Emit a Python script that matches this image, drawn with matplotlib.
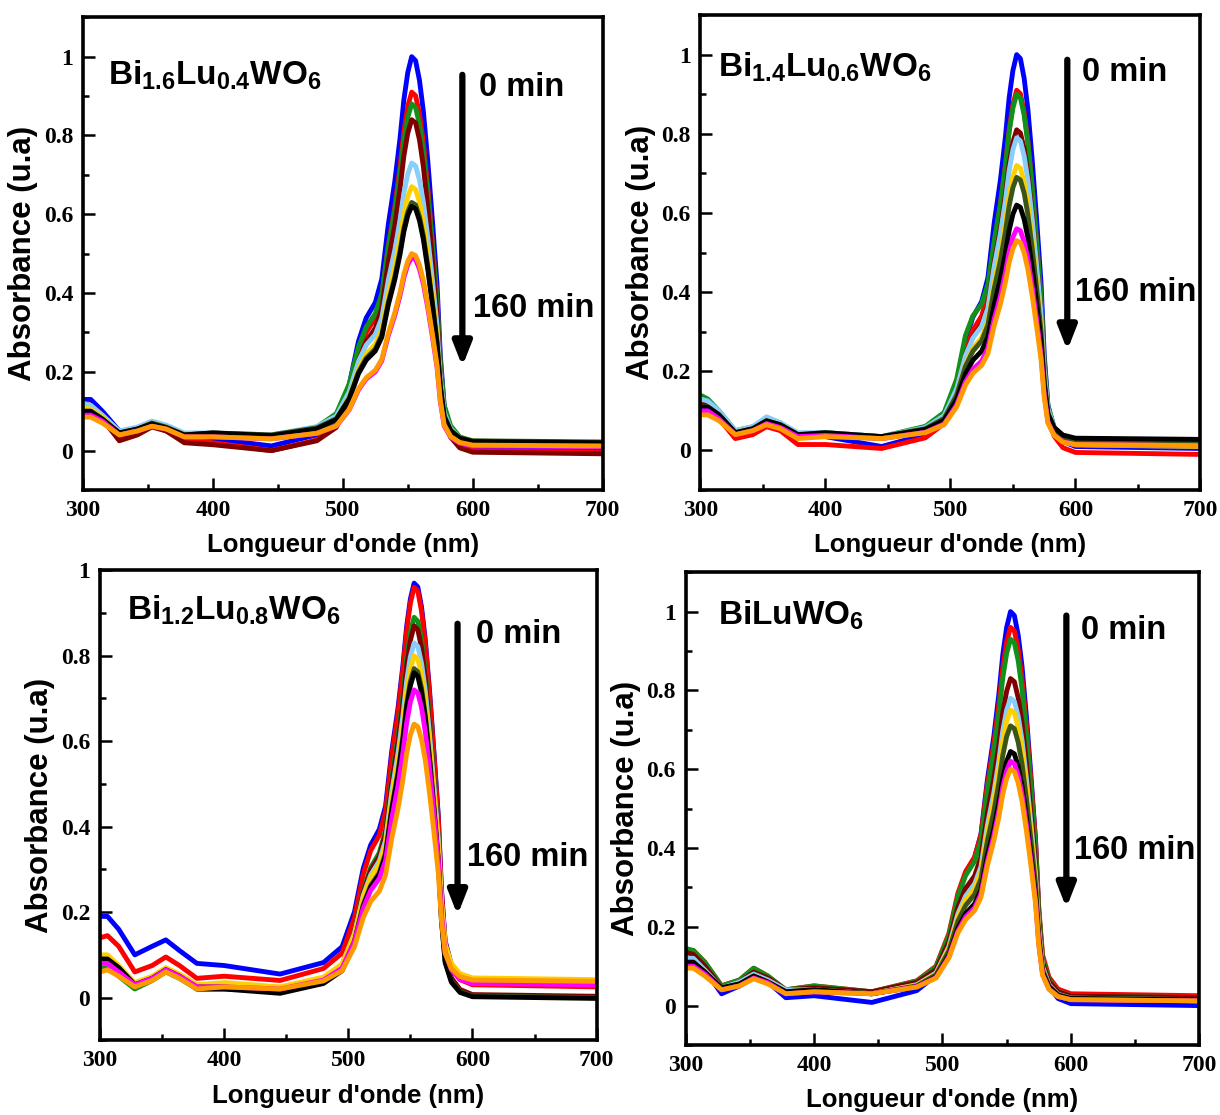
import matplotlib
matplotlib.use("Agg")
import matplotlib.pyplot as plt
from matplotlib.ticker import MultipleLocator, FuncFormatter

plt.rcParams['font.family'] = 'Liberation Serif'
plt.rcParams['font.weight'] = 'bold'
plt.rcParams['mathtext.fontset'] = 'custom'
plt.rcParams['mathtext.rm'] = 'Liberation Sans:bold'
plt.rcParams['mathtext.bf'] = 'Liberation Sans:bold'
plt.rcParams['mathtext.it'] = 'Liberation Sans:bold'

wavelength = [300, 306, 315, 328, 342, 353, 364, 378, 400, 445,
              480, 495, 505, 512, 518, 525, 530, 535, 540, 544, 547, 550, 553,
              556, 559, 562, 565.5, 569, 572.5, 575, 578, 583, 590, 600, 700]

# one colour per irradiation time, 0 min -> 160 min
colors = ['#0000ff', '#ff0000', '#11901a', '#800000', '#87cefa',
          '#ffd000', '#3b5516', '#000000', '#ff00ff', '#ff9900']

# Bi1.6Lu0.4WO6
abs_bi16 = [
    [0.13, 0.13, 0.10, 0.05, 0.055, 0.07, 0.06, 0.03, 0.03, 0.012,
     0.040, 0.079, 0.168, 0.277, 0.337, 0.376, 0.436, 0.574, 0.683, 0.792, 0.891, 0.960, 1.000,
     0.990, 0.940, 0.861, 0.731, 0.582, 0.423, 0.244, 0.114, 0.055, 0.023, 0.010, 0.005],
    [0.12, 0.115, 0.09, 0.03, 0.045, 0.065, 0.05, 0.03, 0.02, 0.0,
     0.027, 0.064, 0.146, 0.246, 0.300, 0.337, 0.391, 0.519, 0.619, 0.719, 0.810, 0.874, 0.910,
     0.901, 0.855, 0.782, 0.663, 0.526, 0.379, 0.215, 0.096, 0.041, 0.011, 0.0, -0.005],
    [0.11, 0.105, 0.085, 0.045, 0.055, 0.07, 0.06, 0.04, 0.04, 0.035,
     0.060, 0.094, 0.170, 0.263, 0.314, 0.348, 0.398, 0.517, 0.610, 0.703, 0.787, 0.846, 0.880,
     0.871, 0.828, 0.760, 0.648, 0.519, 0.381, 0.226, 0.115, 0.063, 0.035, 0.024, 0.02],
    [0.10, 0.10, 0.08, 0.025, 0.04, 0.06, 0.05, 0.02, 0.015, 0.0,
     0.025, 0.059, 0.134, 0.227, 0.277, 0.311, 0.361, 0.479, 0.571, 0.664, 0.748, 0.806, 0.840,
     0.832, 0.789, 0.721, 0.611, 0.484, 0.348, 0.196, 0.085, 0.034, 0.007, -0.004, -0.008],
    [0.12, 0.115, 0.09, 0.05, 0.06, 0.075, 0.065, 0.045, 0.045, 0.04,
     0.061, 0.088, 0.150, 0.226, 0.268, 0.295, 0.337, 0.433, 0.509, 0.585, 0.654, 0.702, 0.730,
     0.723, 0.687, 0.631, 0.538, 0.432, 0.318, 0.190, 0.098, 0.056, 0.033, 0.024, 0.02],
    [0.11, 0.105, 0.085, 0.045, 0.055, 0.07, 0.06, 0.04, 0.04, 0.035,
     0.054, 0.079, 0.137, 0.206, 0.245, 0.270, 0.308, 0.397, 0.467, 0.537, 0.600, 0.645, 0.670,
     0.663, 0.631, 0.578, 0.492, 0.394, 0.288, 0.170, 0.084, 0.045, 0.024, 0.015, 0.012],
    [0.10, 0.10, 0.08, 0.045, 0.055, 0.07, 0.06, 0.04, 0.045, 0.04,
     0.058, 0.081, 0.134, 0.199, 0.235, 0.258, 0.294, 0.376, 0.441, 0.506, 0.565, 0.606, 0.630,
     0.624, 0.594, 0.545, 0.466, 0.375, 0.277, 0.168, 0.089, 0.052, 0.033, 0.025, 0.022],
    [0.10, 0.10, 0.08, 0.045, 0.055, 0.068, 0.058, 0.04, 0.045, 0.038,
     0.055, 0.079, 0.131, 0.195, 0.230, 0.253, 0.288, 0.370, 0.434, 0.498, 0.556, 0.597, 0.620,
     0.614, 0.584, 0.536, 0.458, 0.368, 0.272, 0.164, 0.086, 0.050, 0.031, 0.023, 0.02],
    [0.09, 0.09, 0.075, 0.04, 0.05, 0.062, 0.055, 0.035, 0.035, 0.03,
     0.044, 0.062, 0.104, 0.154, 0.182, 0.200, 0.228, 0.292, 0.343, 0.393, 0.439, 0.472, 0.490,
     0.485, 0.461, 0.423, 0.360, 0.288, 0.212, 0.125, 0.063, 0.034, 0.019, 0.012, 0.01],
    [0.085, 0.085, 0.07, 0.04, 0.05, 0.062, 0.055, 0.035, 0.035, 0.03,
     0.044, 0.063, 0.105, 0.157, 0.185, 0.204, 0.232, 0.298, 0.350, 0.401, 0.448, 0.481, 0.500,
     0.495, 0.471, 0.432, 0.368, 0.295, 0.217, 0.129, 0.066, 0.036, 0.021, 0.014, 0.012],
]

# Bi1.4Lu0.6WO6
abs_bi14 = [
    [0.12, 0.12, 0.095, 0.045, 0.055, 0.075, 0.065, 0.035, 0.035, 0.01,
     0.040, 0.079, 0.168, 0.277, 0.337, 0.376, 0.436, 0.574, 0.683, 0.792, 0.891, 0.960, 1.000,
     0.990, 0.940, 0.861, 0.731, 0.582, 0.423, 0.244, 0.114, 0.055, 0.023, 0.010, 0.005],
    [0.10, 0.10, 0.08, 0.03, 0.04, 0.06, 0.05, 0.015, 0.015, 0.005,
     0.032, 0.068, 0.150, 0.249, 0.304, 0.340, 0.394, 0.521, 0.620, 0.720, 0.810, 0.874, 0.910,
     0.901, 0.855, 0.781, 0.662, 0.524, 0.376, 0.211, 0.091, 0.036, 0.007, -0.005, -0.01],
    [0.14, 0.13, 0.10, 0.05, 0.06, 0.08, 0.07, 0.04, 0.045, 0.035,
     0.061, 0.096, 0.180, 0.290, 0.340, 0.370, 0.420, 0.528, 0.623, 0.718, 0.805, 0.865, 0.900,
     0.891, 0.847, 0.776, 0.661, 0.528, 0.387, 0.227, 0.112, 0.059, 0.031, 0.019, 0.015],
    [0.12, 0.12, 0.095, 0.045, 0.055, 0.075, 0.065, 0.035, 0.04, 0.03,
     0.053, 0.085, 0.155, 0.241, 0.287, 0.319, 0.365, 0.475, 0.560, 0.646, 0.724, 0.779, 0.810,
     0.802, 0.762, 0.699, 0.595, 0.476, 0.349, 0.206, 0.102, 0.055, 0.029, 0.019, 0.015],
    [0.13, 0.125, 0.10, 0.05, 0.06, 0.085, 0.07, 0.045, 0.045, 0.035,
     0.058, 0.088, 0.156, 0.239, 0.284, 0.314, 0.360, 0.465, 0.548, 0.631, 0.707, 0.760, 0.790,
     0.782, 0.744, 0.682, 0.582, 0.467, 0.343, 0.205, 0.105, 0.059, 0.034, 0.024, 0.02],
    [0.11, 0.11, 0.09, 0.045, 0.055, 0.075, 0.065, 0.04, 0.04, 0.03,
     0.051, 0.078, 0.140, 0.216, 0.258, 0.285, 0.327, 0.423, 0.499, 0.575, 0.644, 0.692, 0.720,
     0.713, 0.677, 0.621, 0.528, 0.422, 0.308, 0.180, 0.088, 0.046, 0.023, 0.014, 0.01],
    [0.11, 0.11, 0.09, 0.045, 0.055, 0.075, 0.065, 0.04, 0.042, 0.035,
     0.055, 0.081, 0.140, 0.212, 0.251, 0.277, 0.317, 0.408, 0.480, 0.552, 0.618, 0.664, 0.690,
     0.683, 0.650, 0.596, 0.509, 0.409, 0.301, 0.181, 0.094, 0.054, 0.032, 0.023, 0.02],
    [0.11, 0.11, 0.09, 0.045, 0.055, 0.075, 0.065, 0.04, 0.045, 0.035,
     0.053, 0.076, 0.129, 0.193, 0.228, 0.251, 0.287, 0.368, 0.433, 0.497, 0.556, 0.597, 0.620,
     0.614, 0.584, 0.537, 0.460, 0.371, 0.277, 0.170, 0.093, 0.058, 0.039, 0.031, 0.028],
    [0.10, 0.10, 0.08, 0.04, 0.05, 0.068, 0.058, 0.035, 0.038, 0.03,
     0.046, 0.067, 0.115, 0.173, 0.205, 0.226, 0.258, 0.332, 0.390, 0.449, 0.502, 0.539, 0.560,
     0.555, 0.527, 0.483, 0.412, 0.330, 0.242, 0.144, 0.072, 0.039, 0.022, 0.015, 0.012],
    [0.09, 0.09, 0.075, 0.04, 0.05, 0.065, 0.055, 0.03, 0.035, 0.03,
     0.045, 0.065, 0.110, 0.165, 0.195, 0.215, 0.245, 0.315, 0.370, 0.425, 0.475, 0.510, 0.530,
     0.525, 0.499, 0.457, 0.390, 0.312, 0.230, 0.136, 0.069, 0.038, 0.021, 0.015, 0.012],
]

# Bi1.2Lu0.8WO6
abs_bi12 = [
    [0.19, 0.19, 0.16, 0.10, 0.12, 0.135, 0.11, 0.08, 0.075, 0.055,
     0.082, 0.119, 0.201, 0.302, 0.357, 0.394, 0.448, 0.577, 0.677, 0.778, 0.869, 0.933, 0.970,
     0.961, 0.914, 0.838, 0.716, 0.575, 0.425, 0.256, 0.133, 0.077, 0.047, 0.035, 0.03],
    [0.14, 0.145, 0.12, 0.06, 0.075, 0.095, 0.075, 0.045, 0.05, 0.04,
     0.068, 0.104, 0.187, 0.288, 0.344, 0.380, 0.436, 0.564, 0.666, 0.767, 0.859, 0.923, 0.960,
     0.951, 0.904, 0.829, 0.708, 0.567, 0.418, 0.249, 0.128, 0.072, 0.042, 0.030, 0.025],
    [0.07, 0.07, 0.05, 0.02, 0.04, 0.06, 0.045, 0.02, 0.02, 0.015,
     0.041, 0.076, 0.155, 0.251, 0.304, 0.339, 0.391, 0.514, 0.610, 0.706, 0.794, 0.855, 0.890,
     0.881, 0.837, 0.765, 0.650, 0.516, 0.374, 0.214, 0.098, 0.045, 0.016, 0.004, 0.0],
    [0.09, 0.09, 0.07, 0.03, 0.045, 0.065, 0.05, 0.025, 0.025, 0.015,
     0.041, 0.075, 0.152, 0.246, 0.297, 0.331, 0.383, 0.502, 0.596, 0.690, 0.776, 0.836, 0.870,
     0.861, 0.818, 0.749, 0.636, 0.506, 0.367, 0.211, 0.098, 0.046, 0.019, 0.007, 0.003],
    [0.08, 0.08, 0.06, 0.03, 0.045, 0.065, 0.05, 0.03, 0.03, 0.02,
     0.044, 0.077, 0.150, 0.239, 0.287, 0.320, 0.368, 0.482, 0.571, 0.660, 0.741, 0.798, 0.830,
     0.822, 0.782, 0.719, 0.615, 0.496, 0.369, 0.226, 0.122, 0.075, 0.049, 0.039, 0.035],
    [0.10, 0.10, 0.075, 0.035, 0.05, 0.07, 0.055, 0.03, 0.035, 0.025,
     0.048, 0.079, 0.149, 0.234, 0.281, 0.312, 0.358, 0.467, 0.552, 0.637, 0.715, 0.769, 0.800,
     0.792, 0.755, 0.694, 0.595, 0.482, 0.360, 0.224, 0.125, 0.080, 0.056, 0.046, 0.042],
    [0.09, 0.09, 0.07, 0.03, 0.045, 0.065, 0.05, 0.025, 0.025, 0.012,
     0.035, 0.065, 0.133, 0.217, 0.262, 0.292, 0.338, 0.444, 0.527, 0.611, 0.687, 0.740, 0.770,
     0.762, 0.724, 0.662, 0.562, 0.447, 0.323, 0.185, 0.085, 0.039, 0.014, 0.004, 0.0],
    [0.09, 0.09, 0.07, 0.03, 0.045, 0.065, 0.05, 0.02, 0.02, 0.01,
     0.033, 0.063, 0.130, 0.213, 0.258, 0.288, 0.333, 0.438, 0.520, 0.603, 0.678, 0.730, 0.760,
     0.752, 0.714, 0.653, 0.554, 0.440, 0.318, 0.181, 0.082, 0.036, 0.012, 0.002, -0.002],
    [0.08, 0.08, 0.06, 0.03, 0.045, 0.065, 0.05, 0.025, 0.025, 0.02,
     0.041, 0.069, 0.132, 0.209, 0.251, 0.279, 0.321, 0.419, 0.496, 0.573, 0.643, 0.692, 0.720,
     0.713, 0.679, 0.623, 0.534, 0.430, 0.320, 0.196, 0.106, 0.065, 0.042, 0.033, 0.03],
    [0.06, 0.065, 0.05, 0.025, 0.04, 0.06, 0.045, 0.02, 0.025, 0.02,
     0.039, 0.063, 0.119, 0.187, 0.225, 0.249, 0.287, 0.373, 0.442, 0.510, 0.572, 0.615, 0.640,
     0.634, 0.604, 0.556, 0.477, 0.387, 0.291, 0.182, 0.104, 0.068, 0.049, 0.041, 0.038],
]

# BiLuWO6
abs_bilu = [
    [0.12, 0.12, 0.09, 0.03, 0.05, 0.075, 0.06, 0.02, 0.025, 0.008,
     0.038, 0.077, 0.167, 0.276, 0.335, 0.375, 0.435, 0.573, 0.683, 0.792, 0.891, 0.960, 1.000,
     0.990, 0.940, 0.860, 0.730, 0.580, 0.420, 0.240, 0.110, 0.050, 0.018, 0.005, 0.0],
    [0.14, 0.14, 0.11, 0.05, 0.065, 0.095, 0.075, 0.04, 0.05, 0.035,
     0.063, 0.100, 0.183, 0.285, 0.340, 0.377, 0.433, 0.562, 0.664, 0.766, 0.858, 0.923, 0.960,
     0.951, 0.904, 0.829, 0.708, 0.567, 0.418, 0.249, 0.128, 0.072, 0.042, 0.030, 0.025],
    [0.145, 0.14, 0.11, 0.05, 0.065, 0.095, 0.075, 0.04, 0.05, 0.035,
     0.062, 0.098, 0.178, 0.277, 0.330, 0.366, 0.420, 0.545, 0.644, 0.742, 0.832, 0.894, 0.930,
     0.921, 0.875, 0.803, 0.684, 0.548, 0.402, 0.238, 0.120, 0.066, 0.036, 0.025, 0.02],
    [0.135, 0.13, 0.10, 0.045, 0.06, 0.085, 0.07, 0.04, 0.045, 0.035,
     0.059, 0.091, 0.162, 0.250, 0.297, 0.329, 0.377, 0.488, 0.576, 0.663, 0.743, 0.798, 0.830,
     0.822, 0.781, 0.717, 0.611, 0.490, 0.360, 0.214, 0.109, 0.061, 0.035, 0.024, 0.02],
    [0.12, 0.12, 0.09, 0.045, 0.06, 0.08, 0.065, 0.04, 0.04, 0.03,
     0.053, 0.083, 0.150, 0.233, 0.278, 0.308, 0.353, 0.458, 0.540, 0.623, 0.698, 0.750, 0.780,
     0.772, 0.734, 0.673, 0.573, 0.459, 0.336, 0.199, 0.099, 0.053, 0.029, 0.019, 0.015],
    [0.11, 0.11, 0.085, 0.045, 0.055, 0.075, 0.06, 0.035, 0.04, 0.03,
     0.052, 0.080, 0.145, 0.224, 0.268, 0.296, 0.340, 0.440, 0.520, 0.599, 0.671, 0.721, 0.750,
     0.743, 0.706, 0.647, 0.551, 0.440, 0.322, 0.189, 0.093, 0.049, 0.025, 0.016, 0.012],
    [0.11, 0.11, 0.085, 0.045, 0.055, 0.075, 0.06, 0.035, 0.04, 0.03,
     0.050, 0.078, 0.139, 0.214, 0.254, 0.282, 0.322, 0.418, 0.492, 0.567, 0.635, 0.683, 0.710,
     0.703, 0.668, 0.613, 0.522, 0.418, 0.307, 0.182, 0.091, 0.050, 0.028, 0.018, 0.015],
    [0.11, 0.11, 0.085, 0.045, 0.055, 0.075, 0.06, 0.035, 0.04, 0.03,
     0.048, 0.073, 0.128, 0.196, 0.233, 0.258, 0.294, 0.381, 0.448, 0.516, 0.577, 0.620, 0.645,
     0.639, 0.607, 0.557, 0.475, 0.380, 0.280, 0.166, 0.084, 0.047, 0.026, 0.018, 0.015],
    [0.10, 0.10, 0.08, 0.04, 0.05, 0.07, 0.058, 0.03, 0.035, 0.03,
     0.048, 0.071, 0.124, 0.189, 0.225, 0.248, 0.284, 0.366, 0.431, 0.496, 0.555, 0.596, 0.620,
     0.614, 0.584, 0.535, 0.456, 0.365, 0.267, 0.158, 0.079, 0.042, 0.023, 0.015, 0.012],
    [0.095, 0.095, 0.075, 0.04, 0.05, 0.068, 0.055, 0.03, 0.035, 0.03,
     0.047, 0.070, 0.121, 0.184, 0.218, 0.241, 0.275, 0.355, 0.418, 0.480, 0.537, 0.577, 0.600,
     0.594, 0.565, 0.518, 0.441, 0.353, 0.259, 0.153, 0.077, 0.041, 0.023, 0.015, 0.012],
]

titles = [r"Bi$_{1.6}$Lu$_{0.4}$WO$_6$", r"Bi$_{1.4}$Lu$_{0.6}$WO$_6$",
          r"Bi$_{1.2}$Lu$_{0.8}$WO$_6$", r"BiLuWO$_6$"]
time_labels = ["0 min", "160 min"]

# axes boxes in figure fraction [left, bottom, width, height]
boxes = [[0.068, 0.5605, 0.426, 0.424], [0.574, 0.5605, 0.41, 0.426],
         [0.082, 0.067, 0.407, 0.4215], [0.562, 0.0628, 0.421, 0.424]]
ytops = [1.1, 1.1, 1.0, 1.1]
# (title x, title y, arrow x, arrow top, arrow bottom, "0 min" x, y, "160 min" x, y)
annot = [
    (319, 0.954, 592, 0.954, 0.214, 605, 0.923, 600, 0.36),
    (314, 0.967, 593.5, 0.987, 0.253, 605.5, 0.955, 600, 0.40),
    (322, 0.906, 588, 0.875, 0.193, 602.5, 0.85, 596, 0.327),
    (325, 0.99, 596.5, 0.99, 0.248, 608, 0.951, 602.5, 0.394),
]

fig = plt.figure(figsize=(12.2, 11.15), dpi=100)

for spectra, box, ytop, title, (tx, ty, ax_x, a_top, a_bot, t0x, t0y, t1x, t1y) in zip(
        [abs_bi16, abs_bi14, abs_bi12, abs_bilu], boxes, ytops, titles, annot):
    ax = fig.add_axes(box)
    for y, c in zip(spectra, colors):
        ax.plot(wavelength, y, color=c, lw=3.5, solid_joinstyle='round', solid_capstyle='round')
    ax.set_xlim(300, 700)
    ax.set_ylim(-0.1, ytop)
    ax.xaxis.set_major_locator(MultipleLocator(100))
    ax.xaxis.set_minor_locator(MultipleLocator(50))
    ax.yaxis.set_major_locator(MultipleLocator(0.2))
    ax.yaxis.set_minor_locator(MultipleLocator(0.1))
    ax.yaxis.set_major_formatter(FuncFormatter(lambda v, p: f"{v:g}"))
    ax.tick_params(which='both', direction='in', top=False, right=False, width=1.8,
                   labelsize=17)
    ax.tick_params(which='major', length=8.5, pad=7)
    ax.tick_params(which='minor', length=4)
    for sp in ax.spines.values():
        sp.set_linewidth(2.6)
    ax.set_xlabel("Longueur d'onde (nm)", fontsize=18.5, fontweight='bold',
                  fontfamily='Liberation Sans', labelpad=9)
    ax.set_ylabel("Absorbance (u.a)", fontsize=22.5, fontweight='bold',
                  fontfamily='Liberation Sans', labelpad=4)

    ax.text(tx, ty, title, fontsize=24, fontweight='bold', fontfamily='Liberation Sans',
            ha='left', va='center')
    ax.annotate('', xy=(ax_x, a_bot), xytext=(ax_x, a_top),
                arrowprops=dict(arrowstyle='-|>,head_length=1.4,head_width=0.55',
                                color='black', lw=4.5, shrinkA=0, shrinkB=0))
    ax.text(t0x, t0y, time_labels[0], fontsize=23.5, fontweight='bold',
            fontfamily='Liberation Sans', ha='left', va='center')
    ax.text(t1x, t1y, time_labels[1], fontsize=23.5, fontweight='bold',
            fontfamily='Liberation Sans', ha='left', va='center')

fig.savefig("out.png", dpi=100)
